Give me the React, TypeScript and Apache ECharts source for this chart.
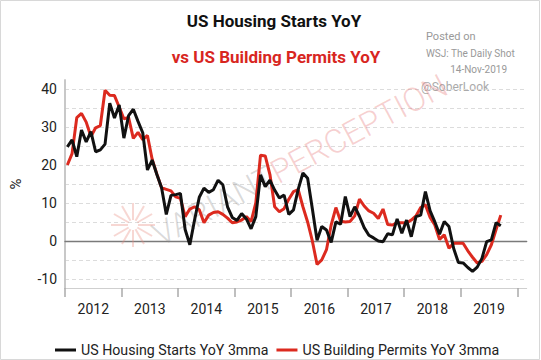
import React, { useEffect, useRef } from 'react';
import * as echarts from 'echarts';

const startYear = 2012;
const yearLabels = ['2012', '2013', '2014', '2015', '2016', '2017', '2018', '2019'];
const seriesNames = ['US Housing Starts YoY 3mma', 'US Building Permits YoY 3mma'];

// monthly, Jan 2012 .. Sep 2019 (YoY %, 3mma)
const housingStarts = [
  24.8, 26.6, 22.2, 29.2, 26.1, 28.8, 23.5, 24, 25.5, 36.3, 32.4, 35.8,
  27.1, 33, 34.7, 31.5, 28.5, 18.7, 21.3, 17.5, 14, 7, 12, 12.2,
  12.5, 3, -1, 5.5, 11.5, 13.9, 12.8, 13.5, 16, 14.8, 9, 6.2,
  5.4, 7.2, 5.8, 3.2, 6.4, 17.4, 14.3, 16, 13.4, 11.3, 12.1, 7,
  8.2, 13.6, 17.9, 16.5, 8.5, 0.2, 3.8, 2.9, -0.4, 5, 4.4, 11.7,
  6.4, 9, 6.5, 3.5, 1.5, 0.8, 0, -0.2, 1.9, 1.6, 5.8, 2,
  5.5, 1.1, 6.4, 6.8, 13, 7.9, 5, 1.8, 5.1, 3.8, -2, -5.7,
  -5.8, -7, -8, -6.9, -4.6, -0.2, 0.3, 4.8, 4,
];
const buildingPermits = [
  20, 23, 32.5, 33.6, 31.3, 27.5, 29.8, 30.4, 39.7, 38.4, 38.3, 35.3,
  32.2, 32.5, 27, 28.6, 26.7, 27.8, 21.5, 17.6, 14, 13.6, 13.2, 11.6,
  11.2, 6.4, 8.4, 9, 8.2, 4.8, 6.8, 7.5, 7.7, 7, 6, 4.8,
  5, 5.5, 6.4, 5.1, 10, 22.6, 22.4, 17.5, 9, 7.7, 8.5, 11,
  13, 13.5, 9, 5, 0, -6.2, -5, -2.3, 4.2, 8.8, 5.2, 5,
  5.1, 6.6, 11, 9.2, 7.9, 7.3, 5.9, 8.4, 4.3, 4.2, 4.8, 4.8,
  4.7, 5.5, 6.6, 8.8, 9.5, 6.2, 4.2, 0.4, 1.6, -1.9, -0.6, -0.6,
  -0.6, -2.6, -4.3, -5.8, -5.4, -3.6, -1, 3, 6.8,
];

const yMin = -12.4;
const yMax = 42.4;
const xMaxMonths = 98;

const FONT = 'Roboto';

export default function App() {
  const ref = useRef<HTMLDivElement>(null);
  useEffect(() => {
    const el = ref.current;
    if (!el) return;
    const chart = echarts.init(el, undefined, { renderer: 'svg' });
    const toPairs = (arr: number[]) => arr.map((v, i) => [i + 0.5, v]);
    const tickVals = yearLabels.map((_, i) => i * 12).concat([yearLabels.length * 12]);
    const labelVals = yearLabels.map((_, i) => i * 12 + 6);

    const burst: any[] = [];
    const cx = 133, cy = 225;
    for (let k = 0; k < 12; k++) {
      const a = (k * Math.PI) / 6;
      burst.push({
        type: 'line',
        z: 1,
        silent: true,
        shape: { x1: cx + Math.cos(a) * 5, y1: cy + Math.sin(a) * 5, x2: cx + Math.cos(a) * 22, y2: cy + Math.sin(a) * 22 },
        style: { stroke: 'rgba(232,140,130,0.35)', lineWidth: 2 },
      });
    }

    chart.setOption({
      animation: false,
      backgroundColor: '#fff',
      grid: { left: 63.3, right: 14.3, top: 80, bottom: 72, containLabel: false },
      legend: {
        data: seriesNames,
        left: 50,
        top: 338,
        icon: 'rect',
        itemWidth: 21,
        itemHeight: 3,
        itemGap: 8,
        textStyle: { fontSize: 14.2, color: '#222', fontFamily: FONT },
      },
      xAxis: [
        {
          type: 'value',
          min: 0,
          max: xMaxMonths,
          axisLine: { show: true, onZero: false, lineStyle: { color: '#cfcfcf', width: 1 } },
          axisTick: { show: true, customValues: tickVals, length: 9, lineStyle: { color: '#aaa', width: 1.5 } },
          axisLabel: {
            customValues: labelVals,
            formatter: (v: number) => String(startYear + Math.floor(v / 12)),
            margin: 14,
            color: '#222',
            fontSize: 14,
            fontFamily: FONT,
          },
          splitLine: { show: false },
        },
        {
          type: 'value',
          min: 0,
          max: xMaxMonths,
          axisLine: { show: true, onZero: true, lineStyle: { color: '#7a7a7a', width: 1.3 } },
          axisTick: { show: false },
          axisLabel: { show: false },
          splitLine: { show: false },
        },
      ],
      yAxis: [
        {
          type: 'value',
          min: yMin,
          max: yMax,
          splitNumber: 11,
          minInterval: 5,
          maxInterval: 5,
          name: '%',
          nameLocation: 'middle',
          nameGap: 42,
          nameRotate: 90,
          nameTextStyle: { fontSize: 15, color: '#222', fontFamily: FONT },
          axisLine: { show: true, lineStyle: { color: '#c4c4c4', width: 1.5 } },
          axisTick: { show: false },
          axisLabel: {
            formatter: (v: number) => (Math.abs(v % 10) < 1e-9 ? String(v) : ''),
            color: '#222',
            fontSize: 14,
            fontFamily: FONT,
            margin: 8,
          },
          splitLine: {
            show: true,
            showMinLine: false,
            showMaxLine: false,
            lineStyle: { color: '#dcdcdc', type: [4, 3], width: 1 },
          },
        },
        {
          type: 'value',
          position: 'right',
          min: yMin,
          max: yMax,
          axisLine: { show: true, lineStyle: { color: '#c4c4c4', width: 1.5 } },
          axisTick: { show: false },
          axisLabel: { show: false },
          splitLine: { show: false },
        },
      ],
      series: [
        {
          name: seriesNames[1],
          type: 'line',
          xAxisIndex: 0,
          yAxisIndex: 0,
          data: toPairs(buildingPermits),
          showSymbol: false,
          symbol: 'none',
          z: 3,
          itemStyle: { color: '#dc2a1f' },
          lineStyle: { color: '#dc2a1f', width: 3 },
        },
        {
          name: seriesNames[0],
          type: 'line',
          xAxisIndex: 0,
          yAxisIndex: 0,
          data: toPairs(housingStarts),
          showSymbol: false,
          symbol: 'none',
          z: 4,
          itemStyle: { color: '#111' },
          lineStyle: { color: '#111', width: 3 },
        },
      ],
      graphic: [
        {
          type: 'rect',
          silent: true,
          z: 0,
          shape: { x: 0.5, y: 0.5, width: 539, height: 359 },
          style: { fill: 'none', stroke: '#d8d8d8', lineWidth: 1 },
        },
        {
          type: 'text',
          x: 274,
          y: 21,
          style: { text: 'US Housing Starts YoY', fontSize: 17, fontWeight: 'bold', fontFamily: FONT, fill: '#111', align: 'center', verticalAlign: 'middle' },
        },
        {
          type: 'text',
          x: 276,
          y: 57,
          style: { text: 'vs US Building Permits YoY', fontSize: 17, fontWeight: 'bold', fontFamily: FONT, fill: '#d8261f', align: 'center', verticalAlign: 'middle' },
        },
        {
          type: 'text',
          x: 426,
          y: 36,
          style: { text: 'Posted on', fontSize: 11, fontFamily: FONT, fill: '#999', align: 'left', verticalAlign: 'middle' },
        },
        {
          type: 'text',
          x: 426,
          y: 53,
          style: { text: 'WSJ: The Daily Shot', fontSize: 10, fontFamily: FONT, fill: '#999', align: 'left', verticalAlign: 'middle' },
        },
        {
          type: 'text',
          x: 507,
          y: 69,
          style: { text: '14-Nov-2019', fontSize: 10, fontFamily: FONT, fill: '#999', align: 'right', verticalAlign: 'middle' },
        },
        {
          type: 'text',
          x: 455,
          y: 87,
          style: { text: '@SoberLook', fontSize: 12, fontFamily: FONT, fill: '#aaa', align: 'center', verticalAlign: 'middle' },
        },
        {
          type: 'text',
          x: 300,
          y: 160,
          rotation: (28 * Math.PI) / 180,
          z: 1,
          silent: true,
          style: {
            text: '{a|VARIANT}{b|PERCEPTION}',
            align: 'center',
            verticalAlign: 'middle',
            rich: {
              a: { fontSize: 33, fontFamily: FONT, fontWeight: 300, fill: 'rgba(140,140,140,0.33)' },
              b: { fontSize: 33, fontFamily: FONT, fontWeight: 300, fill: 'rgba(225,90,90,0.28)' },
            },
          },
        },
        ...burst,
      ],
    });
    return () => chart.dispose();
  }, []);
  return <div ref={ref} style={{ position: 'absolute', left: 0, top: 0, width: 541, height: 360, background: '#fff' }} />;
}
